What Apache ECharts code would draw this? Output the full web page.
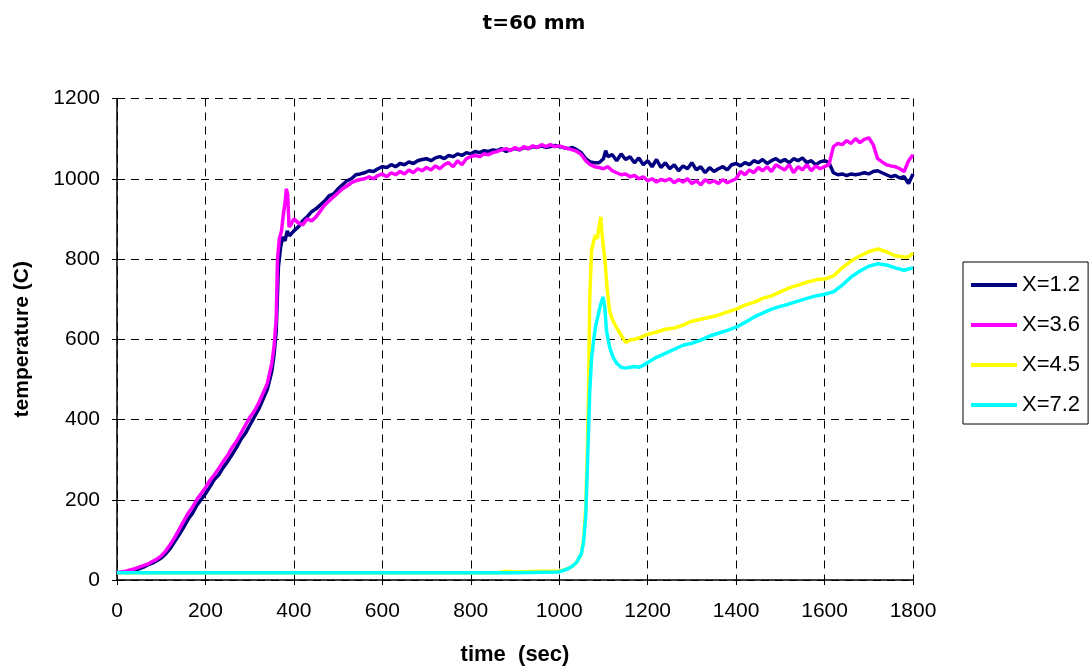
<!DOCTYPE html>
<html>
<head>
<meta charset="utf-8">
<script src="https://cdn.jsdelivr.net/npm/echarts@6/dist/echarts.min.js"></script>
<style>
html,body{margin:0;padding:0;background:#fff;}
#chart{width:1092px;height:672px;}
</style>
</head>
<body>
<div id="chart"></div>
<script>
const chartTitle = 't=60 mm';
const xTitle = 'time  (sec)';
const yTitle = 'temperature (C)';
const seriesNames = ['X=1.2', 'X=3.6', 'X=4.5', 'X=7.2'];
const seriesColors = ['#000080', '#FF00FF', '#FFFF00', '#00FFFF'];

// [time (sec), temperature (C)]
const x12 = [
[0,18],[10,19],[20,20],[30,22],[40,25],[50,28],[60,32],[70,38],[80,42],[90,48],[100,55],[110,65],[120,78],[130,95],[140,112],[150,130],[160,150],[170,165],[180,185],[190,200],[200,215],[210,232],[220,250],[230,262],[240,280],[250,295],[260,312],[270,330],[280,350],[290,365],[300,385],[310,405],[320,425],[330,450],[340,475],[350,520],[355,560],[360,620],[365,780],[370,830],[375,855],[380,845],[385,870],[390,858],[400,870],[410,880],[420,895],[430,905],[440,918],[450,925],[460,935],[470,945],[480,958],[490,962],[500,975],[510,985],[520,995],[530,1000],[540,1010],[550,1012],[560,1015],[570,1020],[580,1018],[590,1025],[600,1030],[610,1028],[620,1035],[630,1030],[640,1038],[650,1035],[660,1042],[670,1038],[680,1045],[690,1048],[700,1050],[710,1045],[720,1052],[730,1055],[740,1050],[750,1058],[760,1055],[770,1062],[780,1058],[790,1065],[800,1062],[810,1068],[820,1065],[830,1070],[840,1068],[850,1072],[860,1070],[870,1075],[880,1068],[890,1072],[900,1075],[910,1072],[920,1078],[930,1075],[940,1080],[950,1078],[960,1082],[970,1078],[980,1080],[990,1083],[1000,1080],[1010,1078],[1020,1075],[1030,1078],[1040,1072],[1050,1065],[1060,1050],[1070,1042],[1080,1040],[1090,1040],[1100,1050],[1105,1070],[1110,1055],[1120,1060],[1130,1045],[1140,1062],[1150,1048],[1160,1055],[1170,1040],[1180,1052],[1190,1035],[1200,1045],[1210,1030],[1220,1048],[1230,1028],[1240,1040],[1250,1025],[1260,1035],[1270,1020],[1280,1032],[1290,1025],[1300,1040],[1310,1022],[1320,1030],[1330,1015],[1340,1028],[1350,1018],[1360,1025],[1370,1030],[1380,1022],[1390,1035],[1400,1038],[1410,1032],[1420,1040],[1430,1035],[1440,1045],[1450,1040],[1460,1048],[1470,1038],[1480,1045],[1490,1050],[1500,1042],[1510,1048],[1520,1040],[1530,1050],[1540,1045],[1550,1052],[1560,1040],[1570,1045],[1580,1035],[1590,1042],[1600,1045],[1610,1040],[1620,1015],[1630,1010],[1640,1012],[1650,1008],[1660,1012],[1670,1010],[1680,1012],[1690,1015],[1700,1012],[1710,1018],[1720,1020],[1730,1015],[1740,1010],[1750,1005],[1760,1008],[1770,1002],[1780,1005],[1790,988],[1800,1012]
];
const x36 = [
[0,18],[10,20],[20,22],[30,25],[40,28],[50,32],[60,36],[70,40],[80,46],[90,52],[100,60],[110,72],[120,88],[130,105],[140,125],[150,145],[160,165],[170,180],[180,200],[190,215],[200,230],[210,248],[220,262],[230,278],[240,295],[250,310],[260,330],[270,345],[280,365],[290,385],[300,405],[310,420],[320,440],[330,465],[340,490],[350,540],[355,580],[360,650],[363,800],[367,850],[372,870],[376,910],[380,940],[383,975],[386,960],[389,880],[393,885],[400,900],[410,890],[420,885],[430,900],[440,895],[450,905],[460,920],[470,935],[480,945],[490,955],[500,965],[510,975],[520,982],[530,990],[540,995],[550,998],[560,1000],[570,1005],[580,1000],[590,1008],[600,1012],[610,1005],[620,1015],[630,1010],[640,1018],[650,1012],[660,1022],[670,1015],[680,1025],[690,1020],[700,1028],[710,1022],[720,1032],[730,1025],[740,1035],[750,1040],[760,1030],[770,1045],[780,1035],[790,1050],[800,1055],[810,1058],[820,1055],[830,1062],[840,1060],[850,1065],[860,1068],[870,1072],[880,1075],[890,1070],[900,1078],[910,1072],[920,1080],[930,1075],[940,1082],[950,1078],[960,1085],[970,1080],[980,1085],[990,1080],[1000,1082],[1010,1078],[1020,1075],[1030,1072],[1040,1068],[1050,1060],[1060,1045],[1070,1035],[1080,1030],[1090,1028],[1100,1025],[1110,1030],[1120,1020],[1130,1015],[1140,1010],[1150,1012],[1160,1005],[1170,1008],[1180,1000],[1190,1005],[1200,995],[1210,1000],[1220,992],[1230,998],[1240,995],[1250,1000],[1260,990],[1270,998],[1280,992],[1290,1000],[1300,988],[1310,995],[1320,985],[1330,998],[1340,990],[1350,995],[1360,988],[1370,998],[1380,990],[1390,995],[1400,1000],[1410,1018],[1420,1010],[1430,1022],[1440,1015],[1450,1028],[1460,1020],[1470,1030],[1480,1018],[1490,1035],[1500,1028],[1510,1022],[1520,1035],[1530,1015],[1540,1030],[1550,1022],[1560,1035],[1570,1020],[1580,1032],[1590,1025],[1600,1030],[1610,1035],[1620,1080],[1630,1088],[1640,1085],[1650,1095],[1660,1088],[1670,1100],[1680,1090],[1690,1098],[1700,1102],[1710,1085],[1720,1050],[1730,1042],[1740,1035],[1750,1032],[1760,1030],[1770,1025],[1780,1018],[1790,1045],[1800,1060]
];
const x45 = [
[0,18],[100,18],[200,18],[300,18],[400,18],[500,18],[600,18],[700,18],[800,18],[860,18],[880,22],[900,20],[950,22],[1000,22],[1020,28],[1030,35],[1040,45],[1050,65],[1055,100],[1060,180],[1063,300],[1066,450],[1069,700],[1073,820],[1078,845],[1082,860],[1086,850],[1090,880],[1094,905],[1097,860],[1100,830],[1104,790],[1108,730],[1114,670],[1120,650],[1130,628],[1140,610],[1150,592],[1160,598],[1170,600],[1180,603],[1190,608],[1200,612],[1220,618],[1240,625],[1260,628],[1280,635],[1300,645],[1320,650],[1340,655],[1360,660],[1380,668],[1400,675],[1420,685],[1440,692],[1460,702],[1480,708],[1500,718],[1520,728],[1540,735],[1560,742],[1580,748],[1600,750],[1620,758],[1640,778],[1660,795],[1680,808],[1700,818],[1720,825],[1740,818],[1760,808],[1780,805],[1790,805],[1800,815]
];
const x72 = [
[0,18],[100,18],[200,18],[300,18],[400,18],[500,18],[600,18],[700,18],[800,18],[900,18],[1000,20],[1020,28],[1030,35],[1040,45],[1050,65],[1055,95],[1060,160],[1063,260],[1066,360],[1069,470],[1073,550],[1078,600],[1082,630],[1088,660],[1094,688],[1099,705],[1103,680],[1107,620],[1114,580],[1122,555],[1130,540],[1140,530],[1150,528],[1160,530],[1170,532],[1180,530],[1190,535],[1200,542],[1220,555],[1240,565],[1260,575],[1280,585],[1300,590],[1320,598],[1340,608],[1360,615],[1380,622],[1400,630],[1420,642],[1440,655],[1460,665],[1480,675],[1500,682],[1520,688],[1540,695],[1560,702],[1580,708],[1600,712],[1620,718],[1640,735],[1660,755],[1680,770],[1700,782],[1720,788],[1740,785],[1760,778],[1780,772],[1790,775],[1800,778]
];
const seriesData = [x12, x36, x45, x72];

const chart = echarts.init(document.getElementById('chart'));
const font = 'Liberation Sans, Arial, sans-serif';
const gridDash = {color: '#000', width: 1, type: [8, 6]};

chart.setOption({
  animation: false,
  backgroundColor: '#fff',
  graphic: [{
    type: 'text', x: 534, y: 24,
    style: {text: chartTitle, font: 'bold 20px "DejaVu Sans", sans-serif', fill: '#000', textAlign: 'center', textVerticalAlign: 'middle'}
  }],
  grid: {left: 117, right: 179, top: 98.5, bottom: 92},
  legend: {
    orient: 'vertical', left: 963, top: 262,
    padding: [12, 8, 8, 8], itemGap: 18,
    itemWidth: 46, itemHeight: 4, icon: 'rect',
    borderColor: '#000', borderWidth: 1,
    textStyle: {fontFamily: font, fontSize: 22, color: '#000', lineHeight: 20},
    data: seriesNames
  },
  xAxis: {
    type: 'value', min: 0, max: 1800, interval: 200,
    name: xTitle, nameLocation: 'middle', nameGap: 64,
    nameTextStyle: {fontFamily: font, fontSize: 22, fontWeight: 'bold', color: '#000'},
    axisLine: {show: true, lineStyle: {color: '#000', width: 1.5}},
    axisTick: {show: true, length: 5, lineStyle: {color: '#000'}},
    axisLabel: {fontFamily: font, fontSize: 21, color: '#000', margin: 21, formatter: v => String(v)},
    splitLine: {show: true, lineStyle: gridDash}
  },
  yAxis: {
    type: 'value', min: 0, max: 1200, interval: 200,
    name: yTitle, nameLocation: 'middle', nameGap: 84, nameRotate: 90,
    nameTextStyle: {fontFamily: font, fontSize: 21, fontWeight: 'bold', color: '#000'},
    axisLine: {show: true, lineStyle: {color: '#000', width: 1.5}},
    axisTick: {show: true, length: 5, lineStyle: {color: '#000'}},
    axisLabel: {fontFamily: font, fontSize: 21, color: '#000', margin: 17, formatter: v => String(v)},
    splitLine: {show: true, lineStyle: gridDash}
  },
  series: seriesNames.map((n, i) => ({
    name: n, type: 'line', data: seriesData[i],
    showSymbol: false, symbol: 'none',
    lineStyle: {color: seriesColors[i], width: 3.5},
    itemStyle: {color: seriesColors[i]},
    emphasis: {disabled: true}
  }))
});
</script>
</body>
</html>
